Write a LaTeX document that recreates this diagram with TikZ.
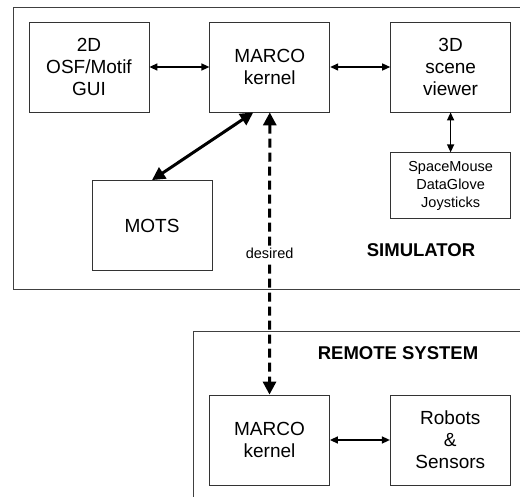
\documentclass[tikz,border=0pt]{standalone}
\usepackage{fontspec}
\setmainfont{Liberation Sans}
\usetikzlibrary{positioning, arrows.meta}
\tikzset{
<->, % arrows point both ways
>={Triangle[length=8pt, width=7pt]}, % filled arrow heads
node distance=60pt, % gap between boxes in one row
every node/.style={-},
block/.style={draw=black!80, line width=0.8pt, minimum width=120pt, minimum height=90pt, inner sep=0pt, align=center, font=\fontsize{19}{22}\selectfont},
smallblock/.style={block, minimum height=66pt, font=\fontsize{14.5}{18}\selectfont},
frame/.style={-, draw=black!75, line width=0.9pt},
link/.style={line width=1.4pt},
biglink/.style={line width=3pt, >={Triangle[length=13pt, width=13pt]}},
title/.style={font=\fontsize{18.5}{22}\selectfont\bfseries},
}

\begin{document}
\begin{tikzpicture}[x=1pt, y=-1pt]
        \useasboundingbox (0,0) rectangle (520,497);
        % the two system frames, open towards the page edge
        \draw[frame] (521,7) -- (13,7) -- (13,289) -- (521,289);
        \draw[frame] (521,331) -- (193,331) -- (193,498);

        \node[block] (gui) at (89,67) {2D\\OSF/Motif\\GUI};
        \node[block, right=of gui] (kernel) {MARCO\\kernel};
        \node[block, right=of kernel] (viewer) {3D\\scene\\viewer};
        \node[smallblock, below=40pt of viewer] (devices) {SpaceMouse\\DataGlove\\Joysticks};
        \node[block] (mots) at (152,225.5) {MOTS};
        \node[title] (sim) at (421,250) {SIMULATOR};

        \node[title] (remote) at (398,353) {REMOTE SYSTEM};
        \node[block] (rkernel) at (269.5,440) {MARCO\\kernel};
        \node[block, right=of rkernel] (robots) {Robots\\\&\\Sensors};

        \draw[link] (gui) -- (kernel);
        \draw[link] (kernel) -- (viewer);
        \draw[link] (viewer) -- (devices);
        \draw[biglink] (mots.north) -- (kernel.-110);
        \draw[biglink, dash pattern=on 9pt off 5pt] (kernel.south) -- node[midway, fill=white, inner sep=2pt, font=\fontsize{14.5}{18}\selectfont] (desired) {desired} (rkernel.north);
        \draw[link] (rkernel) -- (robots);
      \end{tikzpicture}
\end{document}
